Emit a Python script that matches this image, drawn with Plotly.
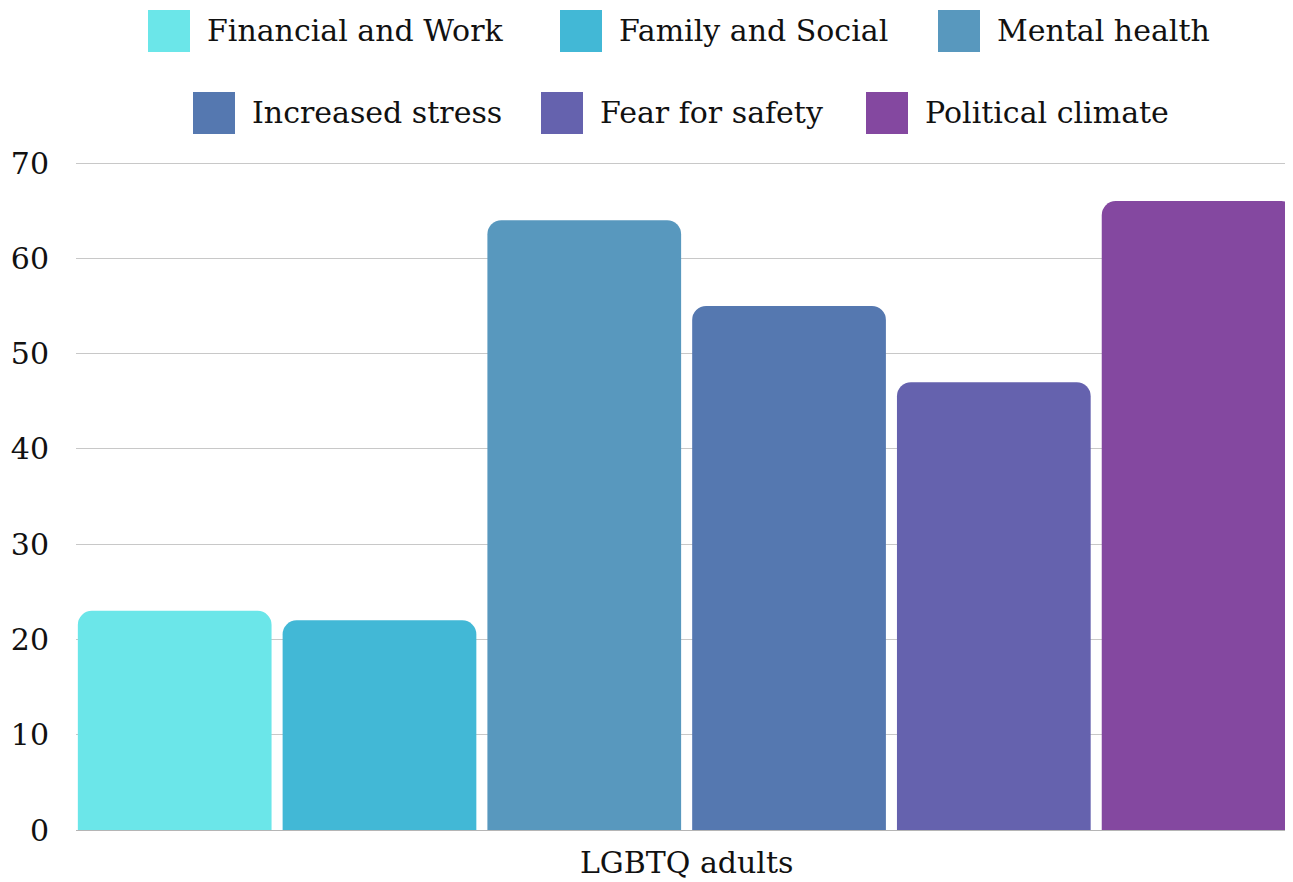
"""Grouped bar chart: what LGBTQ adults report, serif styling with a custom top legend."""
import plotly.graph_objects as go

CATEGORY = ["LGBTQ adults"]
SERIES = ["Financial and Work", "Family and Social", "Mental health",
          "Increased stress", "Fear for safety", "Political climate"]
VALUES = [23, 22, 64, 55, 47, 66]
COLORS = ["#6be6e9", "#42b8d6", "#5898be", "#5578b0", "#6562ae", "#8448a0"]
Y_TICKS = [0, 10, 20, 30, 40, 50, 60, 70]

FONT = "DejaVu Serif"
# the page body adds an 8px offset, so the figure is drawn 8px smaller
OFF = 8
W, H = 1293 - OFF, 882 - OFF
L, R, T, B = 76 - OFF, 0, 158 - OFF, 52

# legend layout in window pixels: (swatch left, row centre y)
LEGEND_POS = [(148, 31), (560, 31), (938, 31), (193, 113), (541, 113), (866, 113)]
SW = 42


def px_x(x):
    return (x - OFF - L) / (W - L - R)


def px_y(y):
    return (H - B - (y - OFF)) / (H - T - B)


fig = go.Figure()
for name, val, col in zip(SERIES, VALUES, COLORS):
    fig.add_trace(go.Bar(
        x=CATEGORY, y=[val], name=name,
        marker=dict(color=col, line=dict(width=0), cornerradius=14),
        hovertemplate=f"<b>{name}</b><br>%{{y}}<extra></extra>",
    ))

shapes, annos = [], []
for (sx, cy), name, col in zip(LEGEND_POS, SERIES, COLORS):
    shapes.append(dict(type="rect", xref="paper", yref="paper",
                       x0=px_x(sx), x1=px_x(sx + SW),
                       y0=px_y(cy + SW / 2), y1=px_y(cy - SW / 2),
                       fillcolor=col, line=dict(width=0), layer="above"))
    annos.append(dict(text=name, xref="paper", yref="paper",
                      x=px_x(sx + SW + 15), y=px_y(cy), xanchor="left", yanchor="middle",
                      showarrow=False, font=dict(family=FONT, size=30, color="#111111")))

fig.update_layout(
    width=W, height=H, barmode="group", bargap=0, bargroupgap=0.054,
    margin=dict(l=L, r=R, t=T, b=B, autoexpand=False),
    paper_bgcolor="white", plot_bgcolor="white",
    font=dict(family=FONT, size=30, color="#111111"),
    showlegend=False, shapes=shapes, annotations=annos,
    xaxis=dict(range=[-0.497, 0.4935], showgrid=False, ticks="", automargin=False,
               showline=False, tickfont=dict(size=30), ticklabelstandoff=12),
    yaxis=dict(range=[0, 70.525], tickvals=Y_TICKS, showgrid=True, gridcolor="#c8c8c8",
               gridwidth=1, zeroline=True, zerolinecolor="#b5b5b5", zerolinewidth=1,
               automargin=False, ticks="", ticklabelstandoff=26, tickfont=dict(size=30)),
)

fig.write_html("out.html")
